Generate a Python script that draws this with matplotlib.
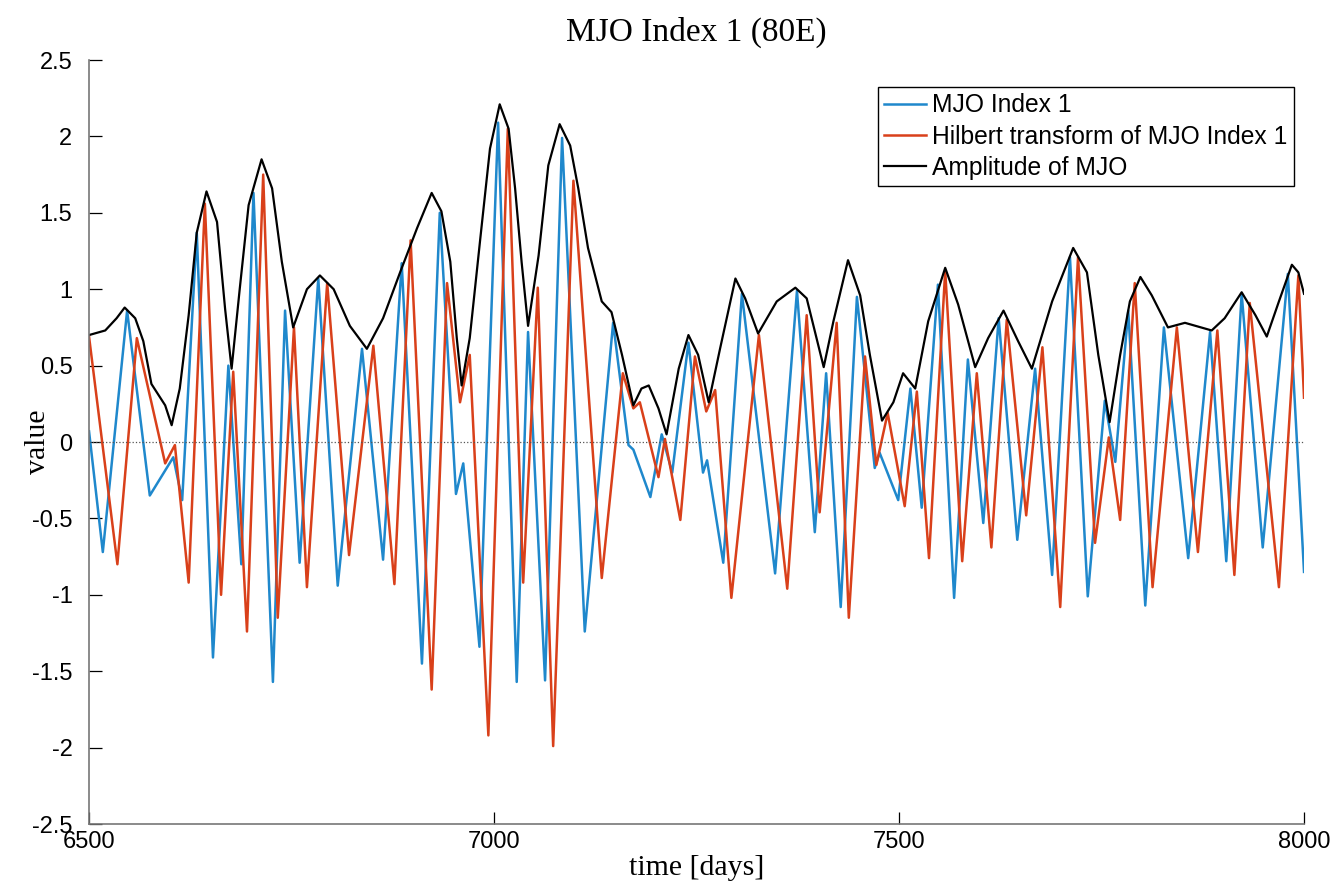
import matplotlib.pyplot as plt

# MJO Index 1 (blue) - peaks/troughs
blue_days = [6500, 6517, 6547, 6575, 6604, 6615, 6633, 6653, 6672, 6688, 6703, 6727, 6742, 6760,
             6783, 6807, 6837, 6863, 6886, 6911, 6933, 6953, 6962, 6982, 7005, 7028, 7042, 7063,
             7084, 7112, 7147, 7166, 7172, 7193, 7207, 7220, 7240, 7258, 7263, 7283, 7306, 7347,
             7374, 7396, 7410, 7428, 7448, 7470, 7476, 7499, 7514, 7528, 7548, 7568, 7585, 7604,
             7623, 7646, 7668, 7689, 7711, 7733, 7754, 7767, 7783, 7804, 7827, 7857, 7884, 7904,
             7923, 7949, 7980, 8000]
blue_vals = [0.07, -0.72, 0.86, -0.35, -0.10, -0.38, 1.37, -1.41, 0.50, -0.80, 1.63, -1.57, 0.86, -0.79,
             1.07, -0.94, 0.61, -0.77, 1.17, -1.45, 1.50, -0.34, -0.14, -1.34, 2.09, -1.57, 0.72, -1.56,
             1.99, -1.24, 0.78, -0.02, -0.05, -0.36, 0.05, -0.20, 0.65, -0.20, -0.12, -0.79, 0.97, -0.86,
             0.99, -0.59, 0.45, -1.08, 0.95, -0.17, -0.07, -0.38, 0.35, -0.43, 1.03, -1.02, 0.54, -0.53,
             0.81, -0.64, 0.48, -0.87, 1.21, -1.01, 0.27, -0.13, 0.86, -1.07, 0.75, -0.76, 0.72, -0.78,
             0.97, -0.69, 1.10, -0.85]

# Hilbert transform (red)
red_days = [6500, 6535, 6559, 6594, 6606, 6623, 6643, 6663, 6678, 6695, 6715, 6733, 6753, 6769,
            6794, 6821, 6851, 6877, 6897, 6923, 6942, 6958, 6970, 6993, 7017, 7036, 7054, 7073,
            7098, 7133, 7159, 7172, 7180, 7203, 7211, 7230, 7248, 7262, 7273, 7293, 7327, 7362,
            7386, 7402, 7423, 7438, 7458, 7472, 7486, 7507, 7522, 7537, 7557, 7578, 7596, 7614,
            7633, 7657, 7677, 7699, 7721, 7742, 7759, 7773, 7791, 7813, 7843, 7869, 7893, 7914,
            7933, 7969, 7993, 8000]
red_vals = [0.69, -0.80, 0.68, -0.14, -0.02, -0.92, 1.56, -1.00, 0.46, -1.24, 1.75, -1.15, 0.75, -0.95,
            1.04, -0.74, 0.63, -0.93, 1.32, -1.62, 1.04, 0.26, 0.57, -1.92, 2.05, -0.92, 1.01, -1.99,
            1.71, -0.89, 0.45, 0.22, 0.26, -0.23, 0.02, -0.51, 0.56, 0.20, 0.34, -1.02, 0.70, -0.96,
            0.83, -0.46, 0.78, -1.15, 0.56, -0.15, 0.19, -0.42, 0.33, -0.76, 1.12, -0.78, 0.45, -0.69,
            0.80, -0.48, 0.62, -1.08, 1.21, -0.66, 0.03, -0.51, 1.04, -0.95, 0.75, -0.72, 0.73, -0.87,
            0.91, -0.95, 1.09, 0.29]

# Amplitude (black envelope)
amp_days = [6500, 6520, 6534, 6544, 6557, 6567, 6577, 6594, 6602, 6612, 6623, 6633, 6645, 6658,
            6668, 6676, 6686, 6697, 6713, 6726, 6738, 6752, 6769, 6785, 6802, 6822, 6843, 6863,
            6884, 6905, 6923, 6935, 6946, 6954, 6960, 6970, 6983, 6995, 7007, 7018, 7026, 7034,
            7042, 7055, 7067, 7081, 7094, 7104, 7116, 7133, 7145, 7158, 7172, 7182, 7191, 7203,
            7213, 7228, 7240, 7252, 7265, 7279, 7298, 7310, 7326, 7349, 7372, 7386, 7407, 7419,
            7437, 7452, 7464, 7479, 7493, 7505, 7520, 7536, 7557, 7573, 7594, 7610, 7629, 7647,
            7664, 7689, 7715, 7732, 7746, 7760, 7773, 7785, 7798, 7812, 7832, 7853, 7886, 7902,
            7923, 7940, 7954, 7969, 7985, 7993, 8000]
amp_vals = [0.70, 0.73, 0.81, 0.88, 0.81, 0.66, 0.38, 0.24, 0.11, 0.35, 0.83, 1.37, 1.64, 1.44,
            0.87, 0.48, 1.00, 1.55, 1.85, 1.66, 1.18, 0.75, 1.00, 1.09, 1.00, 0.76, 0.61, 0.81,
            1.11, 1.40, 1.63, 1.51, 1.18, 0.68, 0.37, 0.68, 1.33, 1.92, 2.21, 2.05, 1.66, 1.18,
            0.76, 1.22, 1.81, 2.08, 1.94, 1.66, 1.27, 0.92, 0.85, 0.57, 0.24, 0.35, 0.37, 0.22,
            0.05, 0.48, 0.70, 0.57, 0.26, 0.61, 1.07, 0.94, 0.71, 0.92, 1.01, 0.94, 0.49, 0.79,
            1.19, 0.96, 0.57, 0.14, 0.26, 0.45, 0.35, 0.79, 1.14, 0.90, 0.49, 0.68, 0.86, 0.66,
            0.48, 0.92, 1.27, 1.11, 0.57, 0.13, 0.57, 0.92, 1.08, 0.96, 0.75, 0.78, 0.73, 0.81,
            0.98, 0.83, 0.69, 0.92, 1.16, 1.11, 0.97]

x_ticks = [6500, 7000, 7500, 8000]
y_ticks = [-2.5, -2, -1.5, -1, -0.5, 0, 0.5, 1, 1.5, 2, 2.5]
y_labels = ['-2.5', '-2', '-1.5', '-1', '-0.5', '0', '0.5', '1', '1.5', '2', '2.5']

fig = plt.figure(figsize=(13.35, 8.85), dpi=100)
ax = fig.add_axes([0.0667, 0.0689, 0.9101, 0.8633])

ax.plot(blue_days, blue_vals, color='#1f88cc', lw=1.8, label='MJO Index 1')
ax.plot(red_days, red_vals, color='#d9401a', lw=1.8, label='Hilbert transform of MJO Index 1')
ax.plot(amp_days, amp_vals, color='black', lw=1.6, label='Amplitude of MJO')
ax.axhline(0, color='#555555', ls=':', lw=0.9)

ax.set_xlim(6500, 8000)
ax.set_ylim(-2.5, 2.5)
ax.set_xticks(x_ticks)
ax.set_xticklabels([str(t) for t in x_ticks])
ax.set_yticks(y_ticks)
ax.set_yticklabels(y_labels)
ax.tick_params(direction='in', length=9, width=0.9, labelsize=17,
               labelfontfamily='Liberation Sans')
ax.tick_params(axis='y', pad=12)
ax.tick_params(axis='x', pad=5)
for s in ['top', 'right']:
    ax.spines[s].set_visible(False)
for s in ['left', 'bottom']:
    ax.spines[s].set_color('#777777')
    ax.spines[s].set_linewidth(1.2)

serif = 'Liberation Serif'
ax.set_title('MJO Index 1 (80E)', fontsize=24, family=serif, pad=14)
ax.set_xlabel('time [days]', fontsize=21.5, family=serif)
ax.set_ylabel('value', fontsize=21.5, family=serif)
ax.xaxis.set_label_coords(0.5, -0.041)
ax.yaxis.set_label_coords(-0.031, 0.5)

leg = fig.legend(loc='upper left', bbox_to_anchor=(878 / 1335, 1 - 87 / 885),
                 prop={'family': 'Liberation Sans', 'size': 17.7}, fancybox=False,
                 edgecolor='black', framealpha=1, handlelength=1.7, handletextpad=0.25,
                 labelspacing=0.3, borderpad=0.25, borderaxespad=0)
leg.get_frame().set_linewidth(1.0)

fig.savefig('out.png', dpi=100)
